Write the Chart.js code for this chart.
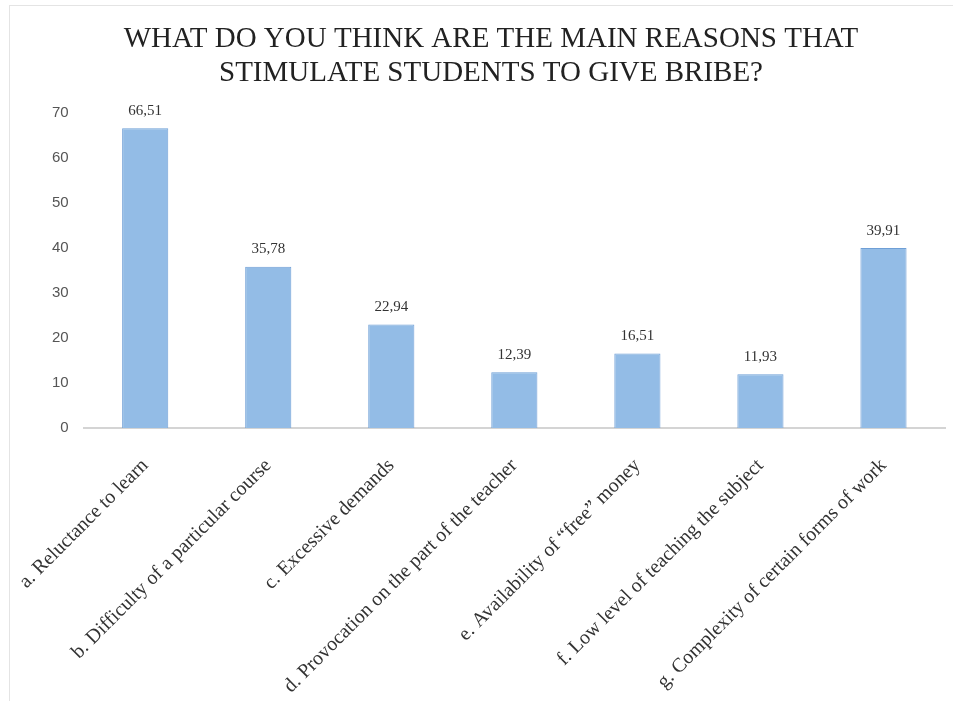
<!DOCTYPE html>
<html>
<head>
<meta charset="utf-8">
<title>Reasons that stimulate students to give bribe</title>
<script src="https://cdn.jsdelivr.net/npm/chart.js@4/dist/chart.umd.min.js"></script>
<style>
    html, body { margin: 0; padding: 0; background: #fff; }
    #wrap { position: relative; width: 953px; height: 701px; }
    #frame {
        position: absolute; left: 9px; top: 5px; right: 0; bottom: 0;
        border-left: 1px solid #e4e4e4; border-top: 1px solid #e4e4e4;
        pointer-events: none;
    }
</style>
</head>
<body>
<div id="wrap">
    <canvas id="chartBribe"></canvas>
    <div id="frame"></div>
</div>
<script>
/* --------------------------------------------
   Datos
-------------------------------------------- */
const categories = [
    "a. Reluctance to learn",
    "b. Difficulty of a particular course",
    "c. Excessive demands",
    "d. Provocation on the part of the teacher",
    "e. Availability of \u201cfree\u201d money",
    "f. Low level of teaching the subject",
    "g. Complexity of certain forms of work"
];
const percentValues = [66.51, 35.78, 22.94, 12.39, 16.51, 11.93, 39.91];
const yTicks = [0, 10, 20, 30, 40, 50, 60, 70];
const titleLines = [
    "WHAT DO YOU THINK ARE THE MAIN REASONS THAT",
    "STIMULATE STUDENTS TO GIVE BRIBE?"
];

/* etiquetas con coma decimal */
const fmt = v => v.toFixed(2).replace(".", ",");

/* --------------------------------------------
   Plugin: valores encima de las barras
-------------------------------------------- */
const valueLabels = {
    id: "valueLabels",
    afterDatasetsDraw(chart) {
        const ctx = chart.ctx;
        const meta = chart.getDatasetMeta(0);
        ctx.save();
        ctx.font = '15px "Liberation Serif"';
        ctx.fillStyle = "#333";
        ctx.textAlign = "center";
        ctx.textBaseline = "bottom";
        meta.data.forEach((bar, i) => {
            ctx.fillText(fmt(percentValues[i]), bar.x, bar.y - 10);
        });
        ctx.restore();
    }
};

new Chart(document.getElementById("chartBribe"), {
    type: "bar",
    data: {
        labels: categories,
        datasets: [{
            data: percentValues,
            backgroundColor: "#93bce6",
            borderColor: "#6f9fd6",
            borderWidth: 1,
            barPercentage: 0.75,
            categoryPercentage: 0.5
        }]
    },
    options: {
        responsive: true,
        maintainAspectRatio: false,
        animation: false,
        devicePixelRatio: 1,
        layout: {
            padding: { left: 37, right: 8, top: 22, bottom: 0 }
        },
        plugins: {
            legend: { display: false },
            tooltip: { enabled: false },
            title: {
                display: true,
                text: titleLines,
                color: "#222",
                font: { family: '"Liberation Serif"', size: 29, weight: "normal", lineHeight: 1.18 },
                padding: { top: 0, bottom: 22 }
            }
        },
        scales: {
            x: {
                grid: { display: false, drawTicks: false },
                border: { display: true, color: "#d4d4d4", width: 2 },
                afterFit: axis => {
                    axis.height = 273;
                    axis.paddingLeft = 0;
                },
                ticks: {
                    minRotation: 45,
                    maxRotation: 45,
                    padding: 26,
                    color: "#333",
                    font: { family: '"Liberation Serif"', size: 20 }
                }
            },
            y: {
                min: 0,
                max: 70,
                afterBuildTicks: axis => { axis.ticks = yTicks.map(v => ({ value: v })); },
                grid: { display: false, drawTicks: false },
                border: { display: false },
                ticks: {
                    padding: 15,
                    color: "#555",
                    font: { family: '"Liberation Sans"', size: 15 }
                }
            }
        }
    },
    plugins: [valueLabels]
});
</script>
</body>
</html>
